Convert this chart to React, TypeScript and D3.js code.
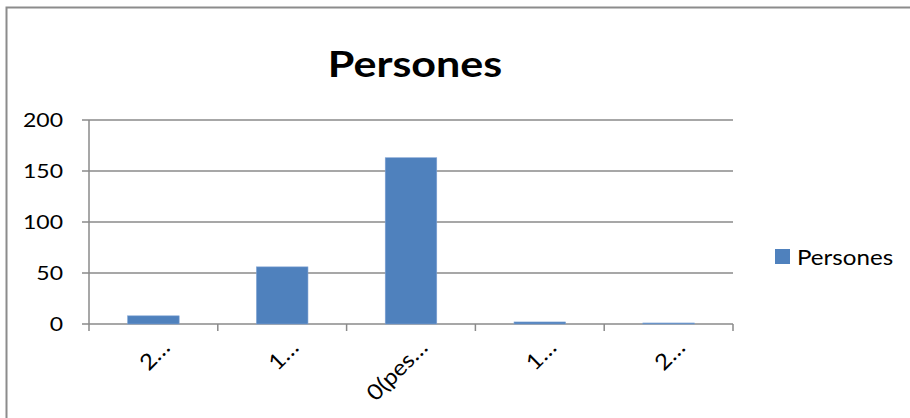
import React from "react";
import * as d3 from "d3";

const categories = ["2…", "1…", "0(pes…", "1…", "2…"];
const personsValues = [8, 56, 163, 2, 1];
const yTicks = [0, 50, 100, 150, 200];
const seriesName = "Persones";
const chartTitle = "Persones";

const W = 910;
const H = 418;
const FONT = "Lato, 'Open Sans', sans-serif";
const GRID = "#8a8a8a";
const BAR = "#4f81bd";
const STRETCH = 1.15;

export default function App() {
  const plot = { left: 89, right: 733, top: 120, bottom: 324 };

  const x = d3
    .scaleBand<number>()
    .domain(d3.range(categories.length))
    .range([plot.left, plot.right])
    .paddingInner(0.6)
    .paddingOuter(0.3);
  const step = x.step();

  const y = d3.scaleLinear().domain([0, 200]).range([plot.bottom, plot.top]);

  // category boundaries for the tick marks
  const boundaries = d3.range(categories.length + 1).map((i) => plot.left + i * step);

  return (
    <svg
      width={W}
      height={H}
      viewBox={`0 0 ${W} ${H}`}
      style={{ position: "absolute", left: 0, top: 0, background: "#fff" }}
    >
      <rect x={0} y={0} width={W} height={H} fill="#fff" />
      {/* chart area frame */}
      <path d={`M6.5,${H + 5} V7.5 H${W + 5}`} fill="none" stroke="#8c8c8c" strokeWidth={2} />

      {/* title */}
      <text
        transform={`translate(415,77) scale(${STRETCH * 1.04},1)`}
        textAnchor="middle"
        fontFamily={FONT}
        fontWeight={700}
        fontSize={36}
        fill="#000"
      >
        {chartTitle}
      </text>

      {/* horizontal gridlines */}
      {yTicks.map((t) => (
        <line
          key={`g${t}`}
          x1={plot.left - 7}
          x2={plot.right}
          y1={y(t)}
          y2={y(t)}
          stroke={GRID}
          strokeWidth={1.5}
        />
      ))}

      {/* value axis */}
      <line x1={plot.left} x2={plot.left} y1={y(200)} y2={plot.bottom + 7} stroke={GRID} strokeWidth={1.5} />
      {yTicks.map((t) => (
        <text
          key={`yl${t}`}
          transform={`translate(63,${y(t) + 7}) scale(${STRETCH},1)`}
          textAnchor="end"
          fontFamily={FONT}
          fontSize={20}
          fill="#000"
        >
          {t}
        </text>
      ))}

      {/* bars */}
      {personsValues.map((v, i) => (
        <rect
          key={`b${i}`}
          x={x(i)!}
          y={y(v)}
          width={x.bandwidth()}
          height={y(0) - y(v)}
          fill={BAR}
          stroke="#7ea2d2"
          strokeWidth={0.6}
        />
      ))}

      {/* category axis ticks */}
      {boundaries.slice(1).map((b, i) => (
        <line
          key={`xt${i}`}
          x1={b}
          x2={b}
          y1={plot.bottom}
          y2={plot.bottom + 7}
          stroke={GRID}
          strokeWidth={1.5}
        />
      ))}

      {/* category labels */}
      {categories.map((c, i) => {
        const cx = x(i)! + x.bandwidth() / 2 + 18;
        return (
          <text
            key={`xl${i}`}
            transform={`translate(${cx},349) rotate(-45) scale(1.1,1)`}
            textAnchor="end"
            fontFamily={FONT}
            fontSize={22}
            fill="#000"
          >
            {c}
          </text>
        );
      })}

      {/* legend */}
      <rect x={775} y={249} width={15} height={15} fill={BAR} />
      <text
        transform={`translate(797,265) scale(${STRETCH},1)`}
        fontFamily={FONT}
        fontSize={21}
        fill="#000"
      >
        {seriesName}
      </text>
    </svg>
  );
}
